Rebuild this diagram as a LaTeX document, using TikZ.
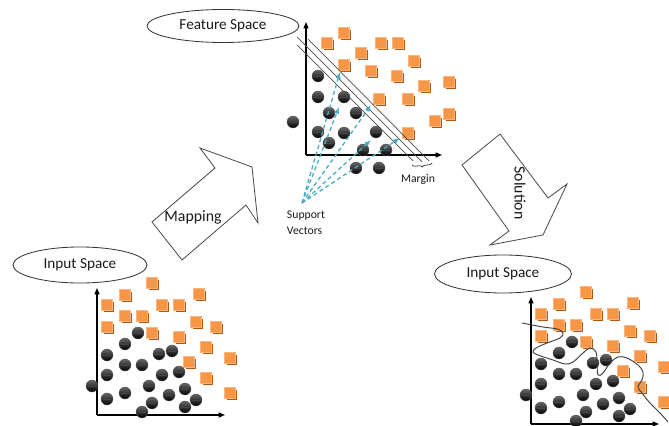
\documentclass[tikz,border=0pt]{standalone}
\usepackage{fontspec}
\setmainfont{Carlito}
\usetikzlibrary{shapes, positioning, arrows.meta, shadows, decorations.pathreplacing}
\definecolor{sqorange}{HTML}{F79646}
\definecolor{sqedge}{HTML}{FBB57E}
\definecolor{sqshadow}{HTML}{B35A12}
\definecolor{svblue}{HTML}{4BACC6}

% the same data set is drawn in both input spaces
\newcommand{\inputpoints}[1]{%
  \foreach \x/\y [count=\i] in {152/283, 125/295, 199/294, 107/305, 162/305, 179/305,
      125/316, 142/316, 196/322, 107/327, 216/327, 152/333, 179/337, 206/347,
      230/358, 189/362, 206/378, 230/393}
    \node[sq] (#1s\i) at (\x,\y) {};
  \foreach \x/\y [count=\i] in {138/333, 125/344, 107/355, 159/354, 172/351, 125/365,
      142/365, 107/375, 162/375, 179/372, 92/386, 149/386, 185/389, 107/399,
      125/393, 169/395, 196/400, 152/403, 185/407, 142/412}
    \node[ball] (#1c\i) at (\x,\y) {};
}

\begin{document}
\begin{tikzpicture}[x=0.03cm, y=-0.03cm]
    % Define the styles
    \tikzset{
        sq/.style={rectangle, minimum size=0.32cm, inner sep=0pt, fill=sqorange, draw=sqedge, line width=0.4pt,
            drop shadow={shadow xshift=0.06cm, shadow yshift=-0.06cm, fill=sqshadow, opacity=1}},
        ball/.style={circle, minimum size=0.36cm, inner sep=0pt, top color=black!60, bottom color=black, draw=black!70, line width=0.3pt,
            path picture={\draw[gray!55!black, line width=0.8pt] ([xshift=-0.13cm]path picture bounding box.center) -- ([xshift=0.13cm]path picture bounding box.center);}},
        space/.style={ellipse, draw=black!80, line width=0.7pt, inner sep=0pt, text=black!90, font=\fontsize{13}{15}\selectfont},
        arrowtext/.style={text=black!90, inner sep=0pt, font=\fontsize{13.5}{15}\selectfont},
        smalltext/.style={text=black!90, inner sep=0pt, font=\fontsize{10}{13.6}\selectfont},
        axis/.style={line width=1pt, -{Triangle[length=1.9mm, width=1.5mm]}},
        svarrow/.style={svblue, line width=1.1pt, dash pattern=on 3.5pt off 2.5pt, -{Latex[length=2mm, width=1.6mm]}},
        bigarrow/.style={draw=black!70, line width=0.7pt, fill=white}
    }
    \useasboundingbox (0,0) rectangle (669,426);
    \clip (0,0) rectangle (669,426);

    % Draw the space labels
    \node[space, minimum width=4.56cm, minimum height=0.99cm] (feat) at (223,26) {Feature Space};
    \node[space, minimum width=4.02cm, minimum height=1.08cm] (inleft) at (80,265) {Input Space};
    \node[space, minimum width=4.11cm, minimum height=1.14cm] (inright) at (503,274) {Input Space};

    % Draw the block arrows
    \draw[bigarrow] (152,222) -- (215,168) -- (200,148) -- (252,167) -- (258,223) -- (246,205) -- (182,260) -- cycle;
    \draw[bigarrow] (462,165) -- (500,134) -- (548,198) -- (567,184) -- (543,235) -- (490,245) -- (509,231) -- cycle;
    \node[arrowtext] (mapping) at (193,217) {Mapping};
    \node[arrowtext, rotate=-90] (solution) at (520,193) {Solution};

    % Input space on the left
    \coordinate (lo) at (97,415);
    \coordinate (lx) at (225,415);
    \coordinate (ly) at (97,288);
    \draw[axis] (lo) -- (lx);
    \draw[axis] (lo) -- (ly);
    \inputpoints{l}

    % Input space on the right, with the found boundary
    \coordinate (ro) at (531,424);
    \coordinate (rx) at (659,424);
    \coordinate (ry) at (531,297);
    \draw[axis] (ro) -- (rx);
    \draw[axis] (ro) -- (ry);
    \begin{scope}[shift={(434,9)}]
        \inputpoints{r}
    \end{scope}
    \draw[black!75, line width=0.8pt] plot[smooth, tension=0.6] coordinates {(522,323) (543,327) (557,329) (563,333)
        (560,338) (547,343) (536,348) (533,352) (538,355) (553,360) (565,364) (573,362) (583,353) (590,348)
        (596,352) (597,363) (598,375) (603,373) (610,363) (618,357) (627,358) (638,365) (643,372) (642,380)
        (638,387) (642,393) (650,403) (660,413) (668,422)};

    % Feature space
    \coordinate (fo) at (306,155);
    \coordinate (fx) at (442,155);
    \coordinate (fy) at (306,22);
    \draw[axis] (fo) -- (fx);
    \draw[axis] (fo) -- (fy);
    \foreach \x/\y [count=\i] in {344/33, 327/43, 381/43, 398/43, 361/53, 414/61, 344/65, 371/71,
        397/76, 424/86, 449/82, 379/99, 408/99, 449/114, 435/121, 408/133}
      \node[sq] (fs\i) at (\x,\y) {};
    \foreach \x/\y [count=\i] in {318/76, 318/97, 344/97, 329/113, 356/113, 293/122, 318/132,
        344/133, 329/143, 376/132, 363/150, 386/150, 356/168, 379/168}
      \node[ball] (fc\i) at (\x,\y) {};

    % Hyperplane and margin
    \draw[black!70, line width=0.6pt] (297,45) -- (413,161);
    \draw[black!70, line width=0.6pt] (297,37) -- (422,162);
    \draw[black!70, line width=0.6pt] (308,39) -- (429,161);
    \coordinate (mr) at (432,163);
    \coordinate (ml) at (412,165);
    \draw[black!80, line width=0.6pt, decorate, decoration={brace, amplitude=0.9mm}] (mr) -- (ml);
    \node[smalltext] (margin) at (418,179) {Margin};

    % Support vectors
    \node[smalltext, align=left] (svtext) at (306,223) {Support\\Vectors};
    \coordinate (svsrc) at (302,203);
    \foreach \x/\y [count=\i] in {340/72, 339/107, 371/105, 371/140, 400/138}
      \coordinate (svt\i) at (\x,\y);
    \foreach \i in {1,...,5}
      \draw[svarrow] (svsrc) -- (svt\i);
\end{tikzpicture}
\end{document}
